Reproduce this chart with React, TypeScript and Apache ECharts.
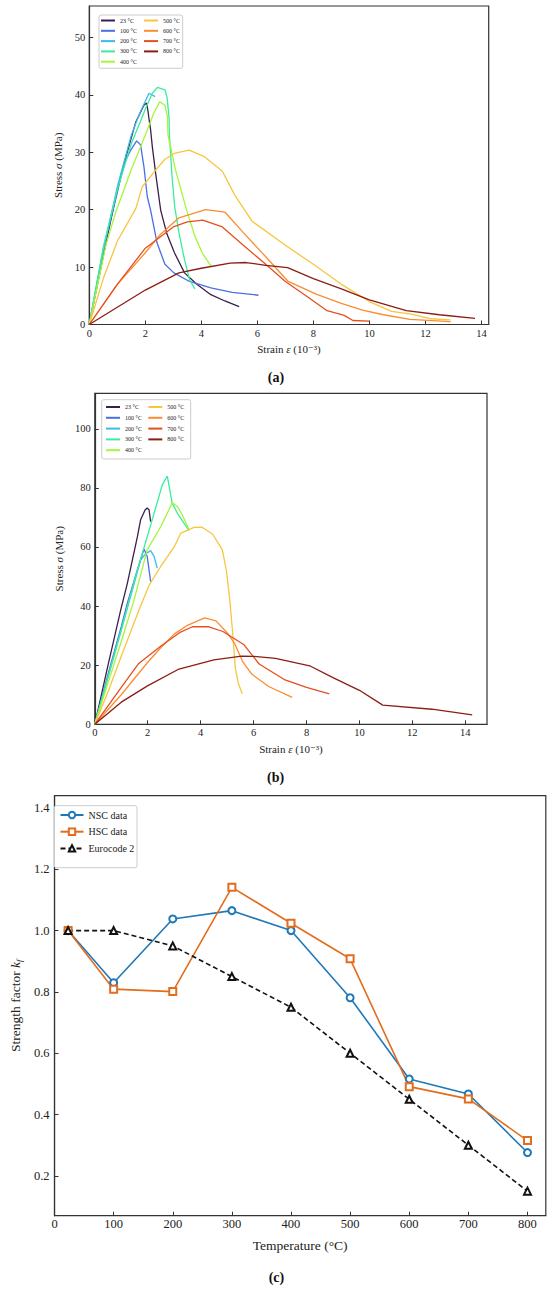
import React, { useEffect, useRef } from "react";
import * as echarts from "echarts";

const FONT = "'Liberation Serif', 'DejaVu Serif', serif";

const TEMP_NAMES = ["23 °C", "100 °C", "200 °C", "300 °C", "400 °C", "500 °C", "600 °C", "700 °C", "800 °C"];
const TEMP_COLORS = ["#3b1f4e", "#4a6fe3", "#3fb8f2", "#38ee9c", "#a6f53a", "#f7c63f", "#fb8c2f", "#e5501f", "#8c1d12"];

// (a) NSC stress-strain curves [strain (1e-3), stress (MPa)]
const A23 = [[0,0],[0.5,12],[1.0,23.5],[1.24,28],[1.66,35.3],[1.95,38.2],[2.05,38.6],[2.1,37],[2.13,35.9],[2.19,33.9],[2.25,31],[2.37,26.3],[2.55,19.9],[2.77,15.8],[3.04,12.5],[3.4,9],[3.84,7],[4.34,5.2],[4.84,4.1],[5.35,3.1]];
const A100 = [[0,0],[0.5,13],[1.0,23],[1.24,28],[1.48,30.4],[1.69,32],[1.83,31.3],[1.95,27.5],[2.07,22.3],[2.19,19.9],[2.42,14.2],[2.7,10.5],[3.02,9],[3.58,7.5],[4.34,6.4],[5.1,5.6],[6.04,5.1]];
const A200 = [[0,0],[0.5,13],[1.0,24],[1.5,33],[1.8,36.8],[2.13,40.3],[2.35,39.7]];
const A300 = [[0,0],[0.5,13.5],[1.0,23.5],[1.5,31.5],[2.0,37.5],[2.25,40.3],[2.43,41.3],[2.7,40.9],[2.78,39.5],[2.85,35.9],[2.86,33],[2.95,26],[3.05,20.5],[3.2,16],[3.4,11.3],[3.58,7.8],[3.77,6.2]];
const A400 = [[0,0],[0.6,14],[0.94,19.5],[1.5,27],[2.0,33],[2.3,36.8],[2.51,38.8],[2.7,38.2],[2.79,36.2],[2.81,33],[3.08,26.9],[3.3,23],[3.5,19.5],[3.77,15.4],[4.03,12.5],[4.34,10.2]];
const A500 = [[0,0],[0.5,8],[1.0,14.5],[1.66,20.2],[1.89,24],[2.37,26.9],[2.7,28.8],[3.03,29.8],[3.56,30.4],[4.09,29.3],[4.75,26.7],[5.2,22.5],[5.81,18],[7.0,13.8],[8.0,10.5],[9.0,7],[10.0,4],[10.79,2.3],[11.5,1.8],[12.2,1.0],[12.9,0.8]];
const A600 = [[0,0],[1.0,7],[2.0,12.5],[2.5,15.5],[3.2,18.6],[4.15,20],[4.84,19.6],[5.5,16],[6.3,11.8],[7.1,7.5],[8.1,5.3],[9.0,3.7],[9.75,2.5],[10.5,1.7],[11.45,0.9],[12.9,0.5]];
const A700 = [[0,0],[1.0,7],[2.0,13.3],[3.0,17],[3.5,17.9],[4.05,18.2],[4.75,17],[5.5,13.8],[6.3,10.5],[7.0,7.5],[7.8,4.8],[8.49,2.4],[9.1,1.6],[9.41,0.7],[10.0,0.6]];
const A800 = [[0,0],[2.0,6],[3.2,9],[4.0,9.8],[5.03,10.7],[5.6,10.8],[6.3,10.3],[7.08,9.9],[8.0,8],[9.0,6.2],[10.0,4.3],[11.32,2.4],[12.5,1.7],[13.77,1.05]];

// (b) HSC stress-strain curves
const B23 = [[0,0],[0.5,20],[0.98,38.7],[1.23,47.7],[1.61,63.5],[1.73,69.2],[1.9,72.5],[1.98,73.2],[2.05,72.6],[2.11,68.6]];
const B100 = [[0,0],[0.5,17],[1.0,33],[1.23,41],[1.61,52.3],[1.86,59.3],[1.98,56.8],[2.11,48.3]];
const B200 = [[0,0],[0.5,16],[1.0,32],[1.5,48],[1.73,55.6],[1.9,57.5],[2.11,58.8],[2.24,56.8],[2.36,52.8]];
const B300 = [[0,0],[0.5,16],[1.0,32],[1.6,52],[2.0,64],[2.55,81],[2.74,84],[2.92,75],[3.12,71.4],[3.56,65.5]];
const B400 = [[0,0],[0.5,14],[1.0,28],[1.48,42],[1.98,59],[2.5,67],[2.93,75],[3.12,73.7],[3.3,71],[3.56,65.8]];
const B500 = [[0,0],[0.5,11],[1.0,23],[1.67,38.7],[2.05,47],[2.49,53.4],[3.0,60],[3.25,64.7],[3.75,66.6],[4.05,66.7],[4.45,64.4],[4.82,59],[4.98,51.7],[5.1,42],[5.2,32],[5.31,19],[5.42,14],[5.57,10.3]];
const B600 = [[0,0],[1.0,10],[2.0,21],[2.5,26],[3.0,30.5],[3.5,33.5],[4.15,36],[4.58,35],[5.0,31],[5.28,27.4],[5.6,21],[5.93,17],[6.57,12.8],[7.46,9.1]];
const B700 = [[0,0],[1.0,12.5],[1.66,20.6],[2.5,26.5],[3.2,31],[3.69,33],[4.31,33],[4.84,31.4],[5.64,26.9],[6.21,20.4],[7.19,15],[8.0,12.5],[8.86,10.3]];
const B800 = [[0,0],[1.0,7.5],[1.99,13],[3.18,18.7],[4.5,21.8],[5.55,23.1],[6.0,23],[6.83,22.3],[8.12,19.8],[9.0,15.8],[10.0,11.5],[10.88,6.5],[12.74,5.1],[14.26,3.2]];

// (c) strength factors
const TEMPS = [23, 100, 200, 300, 400, 500, 600, 700, 800];
const NSC = [1.0, 0.83, 1.038, 1.065, 1.0, 0.781, 0.516, 0.467, 0.276];
const HSC = [1.0, 0.809, 0.801, 1.141, 1.024, 0.908, 0.491, 0.451, 0.315];
const EC2 = [1.0, 1.0, 0.95, 0.85, 0.75, 0.6, 0.45, 0.3, 0.15];

const STRAIN_TICKS = [0, 2, 4, 6, 8, 10, 12, 14];
const STRESS_TICKS_A = [0, 10, 20, 30, 40, 50];
const STRESS_TICKS_B = [0, 20, 40, 60, 80, 100];
const TEMP_TICKS = [0, 100, 200, 300, 400, 500, 600, 700, 800];
const KF_TICKS = [0.2, 0.4, 0.6, 0.8, 1.0, 1.2, 1.4];

const CURVES_A = [A23, A100, A200, A300, A400, A500, A600, A700, A800];
const CURVES_B = [B23, B100, B200, B300, B400, B500, B600, B700, B800];

const AX = "#333333";

function valAxis(grid: number, min: number, max: number, ticks: number[], opts: any) {
  return {
    type: "value",
    gridIndex: grid,
    min,
    max,
    splitLine: { show: false },
    axisLine: { show: true, onZero: false, lineStyle: { color: AX, width: 1.2 } },
    axisTick: { show: true, inside: true, length: 4, customValues: ticks, lineStyle: { color: AX, width: 1 } },
    axisLabel: {
      customValues: ticks,
      color: "#222",
      fontFamily: FONT,
      fontSize: opts.fontSize,
      margin: opts.margin,
      formatter: opts.formatter,
    },
    name: opts.name,
    nameLocation: "middle",
    nameGap: opts.nameGap,
    nameTextStyle: {
      color: "#222",
      fontFamily: FONT,
      fontSize: opts.nameSize,
      rich: opts.rich,
    },
  };
}

export default function App() {
  const ref = useRef<HTMLDivElement>(null);
  useEffect(() => {
    if (!ref.current) return;
    const chart = echarts.init(ref.current, undefined, { renderer: "svg" });

    const richGreek = (size: number) => ({
      i: { fontStyle: "italic", fontFamily: FONT, fontSize: size, color: "#222" },
    });

    const series: any[] = [];
    CURVES_A.forEach((d, i) => {
      series.push({
        type: "line", name: TEMP_NAMES[i], xAxisIndex: 0, yAxisIndex: 0, data: d,
        showSymbol: false, symbol: "none", color: TEMP_COLORS[i],
        lineStyle: { width: 1.3, color: TEMP_COLORS[i] }, z: 2,
      });
    });
    CURVES_B.forEach((d, i) => {
      series.push({
        type: "line", name: TEMP_NAMES[i], xAxisIndex: 1, yAxisIndex: 1, data: d,
        showSymbol: false, symbol: "none", color: TEMP_COLORS[i],
        lineStyle: { width: 1.3, color: TEMP_COLORS[i] }, z: 2,
      });
    });
    const pairs = (ys: number[]) => TEMPS.map((t, i) => [t, ys[i]]);
    series.push({
      type: "line", name: "NSC data", xAxisIndex: 2, yAxisIndex: 2, data: pairs(NSC),
      symbol: "emptyCircle", symbolSize: 7, color: "#1f78b8",
      itemStyle: { color: "#1f78b8", borderWidth: 1.3 },
      lineStyle: { width: 1.6, color: "#1f78b8" },
    });
    series.push({
      type: "line", name: "HSC data", xAxisIndex: 2, yAxisIndex: 2, data: pairs(HSC),
      symbol: "emptyRect", symbolSize: 7, color: "#e36c1d",
      itemStyle: { color: "#e36c1d", borderWidth: 1.3 },
      lineStyle: { width: 1.6, color: "#e36c1d" },
    });
    series.push({
      type: "line", name: "Eurocode 2", xAxisIndex: 2, yAxisIndex: 2, data: pairs(EC2),
      symbol: "emptyTriangle", symbolSize: 7, color: "#111",
      itemStyle: { color: "#111", borderWidth: 1.2 },
      lineStyle: { width: 1.6, color: "#111", type: [5, 3] },
    });

    const smallLegend = (names: string[], left: number, top: number, gap: number) => ({
      data: names,
      orient: "vertical",
      left,
      top,
      padding: 0,
      itemWidth: 14,
      itemHeight: 2,
      itemGap: gap,
      icon: "rect",
      selectedMode: false,
      textStyle: { fontFamily: FONT, fontSize: 6, lineHeight: 8, color: "#222" },
    });

    const option: any = {
      animation: false,
      backgroundColor: "#ffffff",
      grid: [
        { left: 89.3, top: 6, width: 399.4, height: 318.5, show: true, borderColor: AX, borderWidth: 1.2, backgroundColor: "transparent" },
        { left: 94.8, top: 393.3, width: 392.2, height: 331, show: true, borderColor: AX, borderWidth: 1.2, backgroundColor: "transparent" },
        { left: 44, top: 795.7, width: 501.8, height: 420, show: true, borderColor: AX, borderWidth: 1.2, backgroundColor: "transparent" },
      ],
      xAxis: [
        valAxis(0, 0, 14.26, STRAIN_TICKS, { fontSize: 10.5, margin: 3, name: "Strain {i|ε} (10⁻³)", nameGap: 19, nameSize: 11, rich: richGreek(11) }),
        valAxis(1, 0, 14.82, STRAIN_TICKS, { fontSize: 10.5, margin: 3, name: "Strain {i|ε} (10⁻³)", nameGap: 19, nameSize: 11, rich: richGreek(11) }),
        valAxis(2, 0, 831, TEMP_TICKS, { fontSize: 12.5, margin: 2, name: "Temperature (°C)", nameGap: 23, nameSize: 13.5 }),
      ],
      yAxis: [
        valAxis(0, 0, 55.5, STRESS_TICKS_A, { fontSize: 10.5, margin: 4, name: "Stress {i|σ} (MPa)", nameGap: 16, nameSize: 11, rich: richGreek(11) }),
        valAxis(1, 0, 112, STRESS_TICKS_B, { fontSize: 10.5, margin: 4, name: "Stress {i|σ} (MPa)", nameGap: 22, nameSize: 11, rich: richGreek(11) }),
        valAxis(2, 0.07, 1.44, KF_TICKS, {
          fontSize: 12.5, margin: 5, name: "Strength factor {k|k}{f|f}", nameGap: 25, nameSize: 13.5,
          formatter: (v: number) => v.toFixed(1),
          rich: {
            k: { fontStyle: "italic", fontFamily: FONT, fontSize: 13.5, color: "#222" },
            f: { fontStyle: "italic", fontFamily: FONT, fontSize: 9, color: "#222", padding: [7, 0, 0, 0] },
          },
        }),
      ],
      legend: [
        smallLegend(TEMP_NAMES.slice(0, 5), 101, 16.5, 2.3),
        smallLegend(TEMP_NAMES.slice(5), 144, 16.5, 2.3),
        smallLegend(TEMP_NAMES.slice(0, 5), 106, 403, 2.8),
        smallLegend(TEMP_NAMES.slice(5), 148.3, 403, 2.8),
        {
          data: ["NSC data", "HSC data", "Eurocode 2"],
          orient: "vertical",
          left: 59.5,
          top: 809,
          padding: 0,
          itemWidth: 23,
          itemHeight: 8,
          itemGap: 4.7,
          selectedMode: false,
          textStyle: { fontFamily: FONT, fontSize: 10, lineHeight: 12, color: "#222" },
        },
      ],
      graphic: [
        { type: "rect", z: 3, shape: { x: 99, y: 15, width: 83.7, height: 53.3, r: 2 }, style: { fill: "#fff", stroke: "#cccccc", lineWidth: 1 } },
        { type: "rect", z: 3, shape: { x: 101.7, y: 399.7, width: 89, height: 59.3, r: 2 }, style: { fill: "#fff", stroke: "#cccccc", lineWidth: 1 } },
        { type: "rect", z: 3, shape: { x: 54.3, y: 805.7, width: 82.7, height: 62, r: 2 }, style: { fill: "#fff", stroke: "#cccccc", lineWidth: 1 } },
        { type: "text", x: 276, y: 377, style: { text: "(a)", font: `bold 14px ${FONT}`, fill: "#111", align: "center", verticalAlign: "middle" } },
        { type: "text", x: 275.6, y: 777, style: { text: "(b)", font: `bold 14px ${FONT}`, fill: "#111", align: "center", verticalAlign: "middle" } },
        { type: "text", x: 276.4, y: 1277, style: { text: "(c)", font: `bold 14px ${FONT}`, fill: "#111", align: "center", verticalAlign: "middle" } },
      ],
      series,
    };
    chart.setOption(option);
    return () => chart.dispose();
  }, []);
  return <div ref={ref} style={{ position: "absolute", left: 0, top: 0, width: 550, height: 1290 }} />;
}
